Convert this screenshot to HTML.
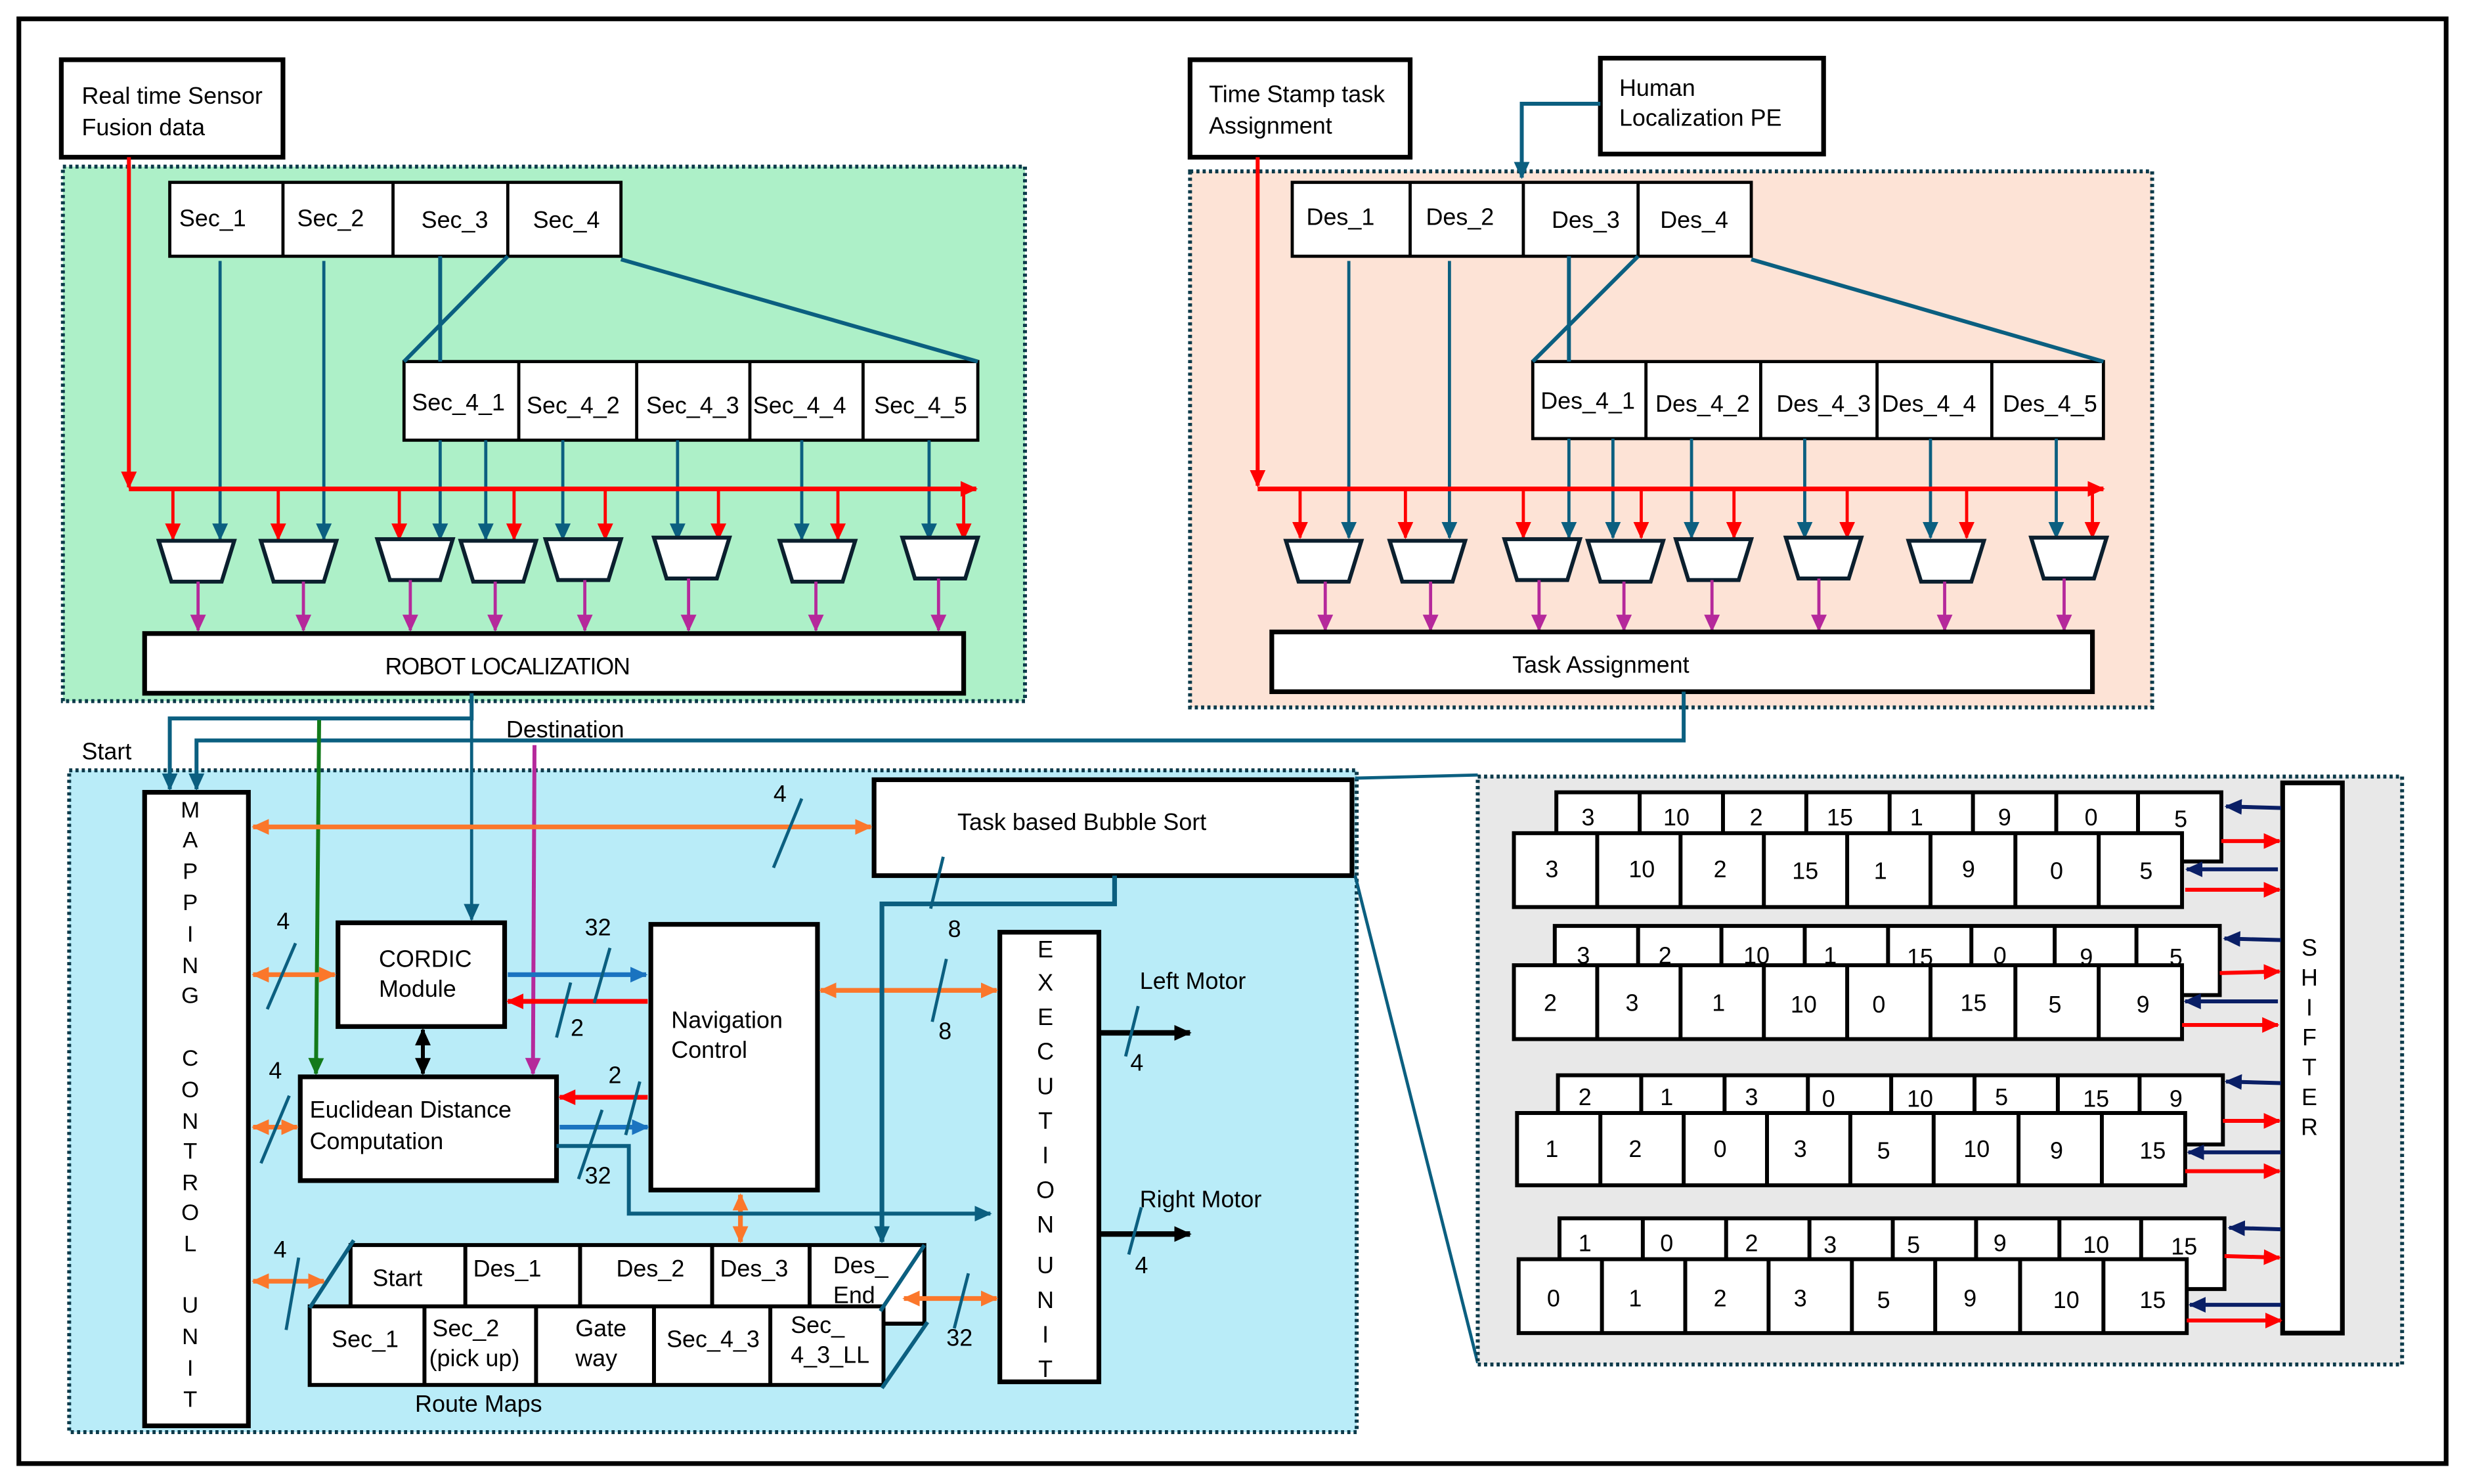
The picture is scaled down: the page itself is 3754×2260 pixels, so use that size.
<!DOCTYPE html>
<html><head><meta charset="utf-8"><style>
html,body{margin:0;padding:0;background:#fff;}
svg{display:block;}
text{font-family:"Liberation Sans",Arial,sans-serif;fill:#000;}
</style></head><body>
<svg width="3754" height="2260" viewBox="0 0 1568 944" preserveAspectRatio="none" xmlns="http://www.w3.org/2000/svg">
<defs>
<marker id="ar" markerUnits="userSpaceOnUse" markerWidth="12" markerHeight="12" refX="10" refY="6" orient="auto-start-reverse"><path d="M0,1 L11,6 L0,11 z" fill="#ff0000"/></marker>
<marker id="at" markerUnits="userSpaceOnUse" markerWidth="12" markerHeight="12" refX="10" refY="6" orient="auto-start-reverse"><path d="M0,1 L11,6 L0,11 z" fill="#0b5f80"/></marker>
<marker id="ap" markerUnits="userSpaceOnUse" markerWidth="12" markerHeight="12" refX="10" refY="6" orient="auto-start-reverse"><path d="M0,1 L11,6 L0,11 z" fill="#b5299b"/></marker>
<marker id="ao" markerUnits="userSpaceOnUse" markerWidth="12" markerHeight="12" refX="10" refY="6" orient="auto-start-reverse"><path d="M0,1 L11,6 L0,11 z" fill="#fb772b"/></marker>
<marker id="ab" markerUnits="userSpaceOnUse" markerWidth="12" markerHeight="12" refX="10" refY="6" orient="auto-start-reverse"><path d="M0,1 L11,6 L0,11 z" fill="#1a73c0"/></marker>
<marker id="ak" markerUnits="userSpaceOnUse" markerWidth="12" markerHeight="12" refX="10" refY="6" orient="auto-start-reverse"><path d="M0,1 L11,6 L0,11 z" fill="#000"/></marker>
<marker id="ag" markerUnits="userSpaceOnUse" markerWidth="12" markerHeight="12" refX="10" refY="6" orient="auto-start-reverse"><path d="M0,1 L11,6 L0,11 z" fill="#137a1a"/></marker>
<marker id="an" markerUnits="userSpaceOnUse" markerWidth="12" markerHeight="12" refX="10" refY="6" orient="auto-start-reverse"><path d="M0,1 L11,6 L0,11 z" fill="#0a1f66"/></marker>
</defs>
<rect x="0" y="0" width="1568" height="944" fill="#fff"/>
<rect x="12" y="12" width="1544" height="919" fill="none" stroke="#000" stroke-width="3"/>

<!-- GREEN PANEL -->
<rect x="40" y="106" width="612" height="340" fill="#adf0c8" stroke="#0c3a4a" stroke-width="2.5" stroke-dasharray="2,2"/>
<rect x="39" y="38" width="141" height="62" fill="#fff" stroke="#000" stroke-width="3"/>
<text x="52" y="66" font-size="15">Real time Sensor</text>
<text x="52" y="86" font-size="15">Fusion data</text>
<g fill="#fff" stroke="#000" stroke-width="2">
<rect x="108" y="116" width="287" height="47"/>
<line x1="180" y1="116" x2="180" y2="163"/><line x1="250" y1="116" x2="250" y2="163"/><line x1="323" y1="116" x2="323" y2="163"/>
<rect x="257" y="230" width="365" height="50"/>
<line x1="330" y1="230" x2="330" y2="280"/><line x1="405" y1="230" x2="405" y2="280"/><line x1="477" y1="230" x2="477" y2="280"/><line x1="549" y1="230" x2="549" y2="280"/>
</g>
<g font-size="15">
<text x="114" y="144">Sec_1</text><text x="189" y="144">Sec_2</text><text x="268" y="145">Sec_3</text><text x="339" y="145">Sec_4</text>
<text x="262" y="261">Sec_4_1</text><text x="335" y="263">Sec_4_2</text><text x="411" y="263">Sec_4_3</text><text x="479" y="263">Sec_4_4</text><text x="556" y="263">Sec_4_5</text>
</g>
<g stroke="#0b5f80" stroke-width="2.5" fill="none">
<line x1="323" y1="163" x2="257" y2="230"/><line x1="395" y1="165" x2="622" y2="230"/>
<line x1="280" y1="163" x2="280" y2="230"/>
</g>
<g stroke="#0b5f80" stroke-width="2" marker-end="url(#at)">
<line x1="140" y1="166" x2="140" y2="343"/><line x1="206" y1="166" x2="206" y2="343"/>
<line x1="280" y1="280" x2="280" y2="343"/><line x1="309" y1="280" x2="309" y2="343"/><line x1="358" y1="280" x2="358" y2="343"/><line x1="431" y1="280" x2="431" y2="343"/><line x1="510" y1="280" x2="510" y2="343"/><line x1="591" y1="280" x2="591" y2="343"/>
</g>
<line x1="82" y1="100" x2="82" y2="310" stroke="#ff0000" stroke-width="2.5" marker-end="url(#ar)"/>
<line x1="82" y1="311" x2="621" y2="311" stroke="#ff0000" stroke-width="3" marker-end="url(#ar)"/>
<g stroke="#ff0000" stroke-width="2" marker-end="url(#ar)">
<line x1="110" y1="311" x2="110" y2="343"/><line x1="177" y1="311" x2="177" y2="343"/><line x1="254" y1="311" x2="254" y2="343"/><line x1="327" y1="311" x2="327" y2="343"/><line x1="385" y1="311" x2="385" y2="343"/><line x1="457" y1="311" x2="457" y2="343"/><line x1="533" y1="311" x2="533" y2="343"/><line x1="613" y1="311" x2="613" y2="343"/>
</g>
<g fill="#fff" stroke="#0b1f2e" stroke-width="2.5">
<polygon points="101,344 149,344 141,370 109,370"/><polygon points="166,344 214,344 206,370 174,370"/><polygon points="240,343 288,343 280,369 248,369"/><polygon points="293,344 341,344 333,370 301,370"/><polygon points="347,343 395,343 387,369 355,369"/><polygon points="416,342 464,342 456,368 424,368"/><polygon points="496,344 544,344 536,370 504,370"/><polygon points="574,342 622,342 614,368 582,368"/>
</g>
<g stroke="#b5299b" stroke-width="2" marker-end="url(#ap)">
<line x1="126" y1="370" x2="126" y2="401"/><line x1="193" y1="370" x2="193" y2="401"/><line x1="261" y1="369" x2="261" y2="401"/><line x1="315" y1="370" x2="315" y2="401"/><line x1="372" y1="369" x2="372" y2="401"/><line x1="438" y1="368" x2="438" y2="401"/><line x1="519" y1="370" x2="519" y2="401"/><line x1="597" y1="368" x2="597" y2="401"/>
</g>
<rect x="92" y="403" width="521" height="38" fill="#fff" stroke="#000" stroke-width="3"/>
<text x="245" y="429" font-size="15" letter-spacing="-0.5">ROBOT LOCALIZATION</text>

<!-- ORANGE PANEL -->
<rect x="757" y="109" width="612" height="341" fill="#fde3d6" stroke="#0c3a4a" stroke-width="2.5" stroke-dasharray="2,2"/>
<rect x="757" y="38" width="140" height="62" fill="#fff" stroke="#000" stroke-width="3"/>
<text x="769" y="65" font-size="15">Time Stamp task</text>
<text x="769" y="85" font-size="15">Assignment</text>
<rect x="1018" y="37" width="142" height="61" fill="#fff" stroke="#000" stroke-width="3"/>
<text x="1030" y="61" font-size="15">Human</text>
<text x="1030" y="80" font-size="15">Localization PE</text>
<polyline points="1018,66 968,66 968,113" fill="none" stroke="#0b5f80" stroke-width="2.5" marker-end="url(#at)"/>
<g fill="#fff" stroke="#000" stroke-width="2">
<rect x="822" y="116" width="292" height="47"/>
<line x1="897" y1="116" x2="897" y2="163"/><line x1="969" y1="116" x2="969" y2="163"/><line x1="1042" y1="116" x2="1042" y2="163"/>
<rect x="975" y="230" width="363" height="49"/>
<line x1="1047" y1="230" x2="1047" y2="279"/><line x1="1120" y1="230" x2="1120" y2="279"/><line x1="1194" y1="230" x2="1194" y2="279"/><line x1="1267" y1="230" x2="1267" y2="279"/>
</g>
<g font-size="15">
<text x="831" y="143">Des_1</text><text x="907" y="143">Des_2</text><text x="987" y="145">Des_3</text><text x="1056" y="145">Des_4</text>
<text x="980" y="260">Des_4_1</text><text x="1053" y="262">Des_4_2</text><text x="1130" y="262">Des_4_3</text><text x="1197" y="262">Des_4_4</text><text x="1274" y="262">Des_4_5</text>
</g>
<g stroke="#0b5f80" stroke-width="2.5" fill="none">
<line x1="1042" y1="163" x2="975" y2="230"/><line x1="1114" y1="165" x2="1338" y2="230"/>
<line x1="998" y1="163" x2="998" y2="230"/>
</g>
<g stroke="#0b5f80" stroke-width="2" marker-end="url(#at)">
<line x1="858" y1="166" x2="858" y2="342"/><line x1="922" y1="166" x2="922" y2="342"/>
<line x1="998" y1="279" x2="998" y2="342"/><line x1="1026" y1="279" x2="1026" y2="342"/><line x1="1076" y1="279" x2="1076" y2="342"/><line x1="1148" y1="279" x2="1148" y2="342"/><line x1="1228" y1="279" x2="1228" y2="342"/><line x1="1308" y1="279" x2="1308" y2="342"/>
</g>
<line x1="800" y1="100" x2="800" y2="309" stroke="#ff0000" stroke-width="2.5" marker-end="url(#ar)"/>
<line x1="800" y1="311" x2="1338" y2="311" stroke="#ff0000" stroke-width="3" marker-end="url(#ar)"/>
<g stroke="#ff0000" stroke-width="2" marker-end="url(#ar)">
<line x1="827" y1="311" x2="827" y2="342"/><line x1="894" y1="311" x2="894" y2="342"/><line x1="969" y1="311" x2="969" y2="342"/><line x1="1044" y1="311" x2="1044" y2="342"/><line x1="1103" y1="311" x2="1103" y2="342"/><line x1="1175" y1="311" x2="1175" y2="342"/><line x1="1251" y1="311" x2="1251" y2="342"/><line x1="1331" y1="311" x2="1331" y2="342"/>
</g>
<g fill="#fff" stroke="#0b1f2e" stroke-width="2.5">
<polygon points="818,344 866,344 858,370 826,370"/><polygon points="884,344 932,344 924,370 892,370"/><polygon points="957,343 1005,343 997,369 965,369"/><polygon points="1010,344 1058,344 1050,370 1018,370"/><polygon points="1066,343 1114,343 1106,369 1074,369"/><polygon points="1136,342 1184,342 1176,368 1144,368"/><polygon points="1214,344 1262,344 1254,370 1222,370"/><polygon points="1292,342 1340,342 1332,368 1300,368"/>
</g>
<g stroke="#b5299b" stroke-width="2" marker-end="url(#ap)">
<line x1="843" y1="370" x2="843" y2="401"/><line x1="910" y1="370" x2="910" y2="401"/><line x1="979" y1="369" x2="979" y2="401"/><line x1="1033" y1="370" x2="1033" y2="401"/><line x1="1089" y1="369" x2="1089" y2="401"/><line x1="1157" y1="368" x2="1157" y2="401"/><line x1="1237" y1="370" x2="1237" y2="401"/><line x1="1313" y1="368" x2="1313" y2="401"/>
</g>
<rect x="809" y="402" width="522" height="38" fill="#fff" stroke="#000" stroke-width="3"/>
<text x="962" y="428" font-size="15">Task Assignment</text>

<!-- BLUE PANEL -->
<rect x="44" y="490" width="819" height="421" fill="#b9ecf8" stroke="#0c3a4a" stroke-width="2.5" stroke-dasharray="2,2"/>
<text x="52" y="483" font-size="15">Start</text>
<text x="322" y="469" font-size="15">Destination</text>
<polyline points="300,441 300,457 108,457 108,502" fill="none" stroke="#0b5f80" stroke-width="2.5" marker-end="url(#at)"/>
<line x1="300" y1="457" x2="300" y2="585" stroke="#0b5f80" stroke-width="2" marker-end="url(#at)"/>
<polyline points="1071,440 1071,471 125,471 125,502" fill="none" stroke="#0b5f80" stroke-width="2.5" marker-end="url(#at)"/>
<line x1="203" y1="458" x2="201" y2="683" stroke="#137a1a" stroke-width="2.5" marker-end="url(#ag)"/>
<line x1="340" y1="474" x2="339" y2="683" stroke="#b5299b" stroke-width="2.5" marker-end="url(#ap)"/>

<rect x="92" y="504" width="66" height="403" fill="#fff" stroke="#000" stroke-width="3"/>
<g font-size="14.5" text-anchor="middle">
<text x="121" y="520">M</text><text x="121" y="539">A</text><text x="121" y="559">P</text><text x="121" y="579">P</text><text x="121" y="599">I</text><text x="121" y="619">N</text><text x="121" y="638">G</text>
<text x="121" y="678">C</text><text x="121" y="698">O</text><text x="121" y="718">N</text><text x="121" y="737">T</text><text x="121" y="757">R</text><text x="121" y="776">O</text><text x="121" y="796">L</text>
<text x="121" y="835">U</text><text x="121" y="855">N</text><text x="121" y="875">I</text><text x="121" y="895">T</text>
</g>

<rect x="556" y="496" width="304" height="61" fill="#fff" stroke="#000" stroke-width="3"/>
<text x="609" y="528" font-size="15">Task based Bubble Sort</text>
<rect x="215" y="587" width="106" height="66" fill="#fff" stroke="#000" stroke-width="3"/>
<text x="241" y="615" font-size="15">CORDIC</text>
<text x="241" y="634" font-size="15">Module</text>
<rect x="414" y="588" width="106" height="169" fill="#fff" stroke="#000" stroke-width="3"/>
<text x="427" y="654" font-size="15">Navigation</text>
<text x="427" y="673" font-size="15">Control</text>
<rect x="191" y="685" width="163" height="66" fill="#fff" stroke="#000" stroke-width="3"/>
<text x="197" y="711" font-size="15">Euclidean Distance</text>
<text x="197" y="731" font-size="15">Computation</text>
<rect x="636" y="593" width="63" height="286" fill="#fff" stroke="#000" stroke-width="3"/>
<g font-size="15" text-anchor="middle">
<text x="665" y="609">E</text><text x="665" y="630">X</text><text x="665" y="652">E</text><text x="665" y="674">C</text><text x="665" y="696">U</text><text x="665" y="718">T</text><text x="665" y="740">I</text><text x="665" y="762">O</text><text x="665" y="784">N</text>
<text x="665" y="810">U</text><text x="665" y="832">N</text><text x="665" y="854">I</text><text x="665" y="876">T</text>
</g>

<!-- route maps -->
<g fill="#fff" stroke="#000" stroke-width="2.5">
<rect x="223" y="792" width="365" height="50"/>
<line x1="562" y1="842" x2="588" y2="842"/>
<rect x="197" y="831" width="365" height="50"/>
<line x1="296" y1="792" x2="296" y2="831"/><line x1="369" y1="792" x2="369" y2="831"/><line x1="453" y1="792" x2="453" y2="831"/><line x1="515" y1="792" x2="515" y2="831"/>
<line x1="270" y1="831" x2="270" y2="881"/><line x1="341" y1="831" x2="341" y2="881"/><line x1="416" y1="831" x2="416" y2="881"/><line x1="490" y1="831" x2="490" y2="881"/>
</g>
<g stroke="#0b5f80" stroke-width="2.5">
<line x1="225" y1="789" x2="197" y2="832"/>
<line x1="588" y1="792" x2="560" y2="834"/>
<line x1="590" y1="841" x2="561" y2="883"/>
</g>
<g font-size="15">
<text x="237" y="818">Start</text><text x="301" y="812">Des_1</text><text x="392" y="812">Des_2</text><text x="458" y="812">Des_3</text><text x="530" y="810">Des_</text><text x="530" y="829">End</text>
<text x="211" y="857">Sec_1</text><text x="275" y="850">Sec_2</text><text x="273" y="869">(pick up)</text><text x="366" y="850">Gate</text><text x="366" y="869">way</text><text x="424" y="857">Sec_4_3</text><text x="503" y="848">Sec_</text><text x="503" y="867">4_3_LL</text>
<text x="264" y="898">Route Maps</text>
</g>

<g stroke="#fb772b" stroke-width="3" marker-start="url(#ao)" marker-end="url(#ao)">
<line x1="161" y1="526" x2="554" y2="526"/>
<line x1="161" y1="620" x2="213" y2="620"/>
<line x1="161" y1="717" x2="189" y2="717"/>
<line x1="161" y1="815" x2="206" y2="815"/>
<line x1="522" y1="630" x2="634" y2="630"/>
<line x1="471" y1="760" x2="471" y2="790"/>
<line x1="575" y1="826" x2="634" y2="826"/>
</g>
<line x1="323" y1="620" x2="411" y2="620" stroke="#1a73c0" stroke-width="3" marker-end="url(#ab)"/>
<line x1="412" y1="637" x2="323" y2="637" stroke="#ff0000" stroke-width="3" marker-end="url(#ar)"/>
<line x1="412" y1="698" x2="356" y2="698" stroke="#ff0000" stroke-width="3" marker-end="url(#ar)"/>
<line x1="356" y1="717" x2="412" y2="717" stroke="#1a73c0" stroke-width="3" marker-end="url(#ab)"/>
<line x1="269" y1="655" x2="269" y2="683" stroke="#000" stroke-width="2.5" marker-start="url(#ak)" marker-end="url(#ak)"/>
<polyline points="354,729 400,729 400,772 630,772" fill="none" stroke="#0b5f80" stroke-width="2.5" marker-end="url(#at)"/>
<polyline points="709,557 709,575 561,575 561,790" fill="none" stroke="#0b5f80" stroke-width="3" marker-end="url(#at)"/>
<line x1="699" y1="657" x2="757" y2="657" stroke="#000" stroke-width="3.5" marker-end="url(#ak)"/>
<line x1="699" y1="785" x2="757" y2="785" stroke="#000" stroke-width="3.5" marker-end="url(#ak)"/>
<g stroke="#0b5f80" stroke-width="2">
<line x1="510" y1="508" x2="492" y2="552"/>
<line x1="188" y1="600" x2="170" y2="642"/>
<line x1="184" y1="697" x2="166" y2="740"/>
<line x1="190" y1="800" x2="182" y2="846"/>
<line x1="388" y1="603" x2="378" y2="638"/>
<line x1="363" y1="625" x2="354" y2="660"/>
<line x1="407" y1="688" x2="398" y2="722"/>
<line x1="383" y1="706" x2="368" y2="750"/>
<line x1="602" y1="610" x2="593" y2="650"/>
<line x1="600" y1="545" x2="592" y2="578"/>
<line x1="724" y1="640" x2="716" y2="672"/>
<line x1="726" y1="768" x2="718" y2="798"/>
<line x1="616" y1="810" x2="607" y2="845"/>
</g>
<g font-size="15">
<text x="492" y="510">4</text>
<text x="176" y="591">4</text><text x="171" y="686">4</text><text x="174" y="800">4</text>
<text x="372" y="595">32</text><text x="363" y="659">2</text><text x="387" y="689">2</text><text x="372" y="753">32</text>
<text x="603" y="596">8</text><text x="597" y="661">8</text>
<text x="725" y="629">Left Motor</text><text x="719" y="681">4</text>
<text x="725" y="768">Right Motor</text><text x="722" y="810">4</text>
<text x="602" y="856">32</text>
</g>
<line x1="862" y1="495" x2="940" y2="493" stroke="#0b5f80" stroke-width="2"/>
<line x1="862" y1="557" x2="940" y2="867" stroke="#0b5f80" stroke-width="2"/>

<!-- GRAY PANEL -->
<rect x="940" y="494" width="588" height="374" fill="#e8e8e8" stroke="#0c3a4a" stroke-width="2.5" stroke-dasharray="2,2"/>
<rect x="1452" y="498" width="38" height="350" fill="#fff" stroke="#000" stroke-width="3"/>
<g font-size="15" text-anchor="middle">
<text x="1469" y="608">S</text><text x="1469" y="627">H</text><text x="1469" y="646">I</text><text x="1469" y="665">F</text><text x="1469" y="684">T</text><text x="1469" y="703">E</text><text x="1469" y="722">R</text>
</g>
<g fill="#fff" stroke="#000" stroke-width="2.5">
<rect x="990" y="504" width="423" height="44"/>
<line x1="1043" y1="504" x2="1043" y2="529"/><line x1="1096" y1="504" x2="1096" y2="529"/><line x1="1149" y1="504" x2="1149" y2="529"/><line x1="1202" y1="504" x2="1202" y2="529"/><line x1="1255" y1="504" x2="1255" y2="529"/><line x1="1308" y1="504" x2="1308" y2="529"/><line x1="1360" y1="504" x2="1360" y2="529"/>
<rect x="963" y="530" width="425" height="47"/>
<line x1="1016" y1="530" x2="1016" y2="577"/><line x1="1069" y1="530" x2="1069" y2="577"/><line x1="1122" y1="530" x2="1122" y2="577"/><line x1="1175" y1="530" x2="1175" y2="577"/><line x1="1228" y1="530" x2="1228" y2="577"/><line x1="1282" y1="530" x2="1282" y2="577"/><line x1="1335" y1="530" x2="1335" y2="577"/>
<rect x="989" y="589" width="423" height="44"/>
<line x1="1042" y1="589" x2="1042" y2="614"/><line x1="1095" y1="589" x2="1095" y2="614"/><line x1="1148" y1="589" x2="1148" y2="614"/><line x1="1201" y1="589" x2="1201" y2="614"/><line x1="1254" y1="589" x2="1254" y2="614"/><line x1="1307" y1="589" x2="1307" y2="614"/><line x1="1359" y1="589" x2="1359" y2="614"/>
<rect x="963" y="614" width="425" height="47"/>
<line x1="1016" y1="614" x2="1016" y2="661"/><line x1="1069" y1="614" x2="1069" y2="661"/><line x1="1122" y1="614" x2="1122" y2="661"/><line x1="1175" y1="614" x2="1175" y2="661"/><line x1="1228" y1="614" x2="1228" y2="661"/><line x1="1282" y1="614" x2="1282" y2="661"/><line x1="1335" y1="614" x2="1335" y2="661"/>
<rect x="991" y="684" width="423" height="44"/>
<line x1="1044" y1="684" x2="1044" y2="708"/><line x1="1097" y1="684" x2="1097" y2="708"/><line x1="1150" y1="684" x2="1150" y2="708"/><line x1="1203" y1="684" x2="1203" y2="708"/><line x1="1256" y1="684" x2="1256" y2="708"/><line x1="1309" y1="684" x2="1309" y2="708"/><line x1="1361" y1="684" x2="1361" y2="708"/>
<rect x="965" y="708" width="425" height="46"/>
<line x1="1018" y1="708" x2="1018" y2="754"/><line x1="1071" y1="708" x2="1071" y2="754"/><line x1="1124" y1="708" x2="1124" y2="754"/><line x1="1177" y1="708" x2="1177" y2="754"/><line x1="1230" y1="708" x2="1230" y2="754"/><line x1="1284" y1="708" x2="1284" y2="754"/><line x1="1337" y1="708" x2="1337" y2="754"/>
<rect x="992" y="775" width="423" height="45"/>
<line x1="1045" y1="775" x2="1045" y2="801"/><line x1="1098" y1="775" x2="1098" y2="801"/><line x1="1151" y1="775" x2="1151" y2="801"/><line x1="1204" y1="775" x2="1204" y2="801"/><line x1="1257" y1="775" x2="1257" y2="801"/><line x1="1310" y1="775" x2="1310" y2="801"/><line x1="1362" y1="775" x2="1362" y2="801"/>
<rect x="966" y="801" width="425" height="47"/>
<line x1="1019" y1="801" x2="1019" y2="848"/><line x1="1072" y1="801" x2="1072" y2="848"/><line x1="1125" y1="801" x2="1125" y2="848"/><line x1="1178" y1="801" x2="1178" y2="848"/><line x1="1231" y1="801" x2="1231" y2="848"/><line x1="1285" y1="801" x2="1285" y2="848"/><line x1="1338" y1="801" x2="1338" y2="848"/>
</g>
<g font-size="15">
<text x="1006" y="525">3</text><text x="1058" y="525">10</text><text x="1113" y="525">2</text><text x="1162" y="525">15</text><text x="1215" y="525">1</text><text x="1271" y="525">9</text><text x="1326" y="525">0</text><text x="1383" y="526">5</text>
<text x="983" y="558">3</text><text x="1036" y="558">10</text><text x="1090" y="558">2</text><text x="1140" y="559">15</text><text x="1192" y="559">1</text><text x="1248" y="558">9</text><text x="1304" y="559">0</text><text x="1361" y="559">5</text>
<text x="1003" y="613">3</text><text x="1055" y="613">2</text><text x="1109" y="613">10</text><text x="1160" y="613">1</text><text x="1213" y="614">15</text><text x="1268" y="613">0</text><text x="1323" y="614">9</text><text x="1380" y="614">5</text>
<text x="982" y="643">2</text><text x="1034" y="643">3</text><text x="1089" y="643">1</text><text x="1139" y="644">10</text><text x="1191" y="644">0</text><text x="1247" y="643">15</text><text x="1303" y="644">5</text><text x="1359" y="644">9</text>
<text x="1004" y="703">2</text><text x="1056" y="703">1</text><text x="1110" y="703">3</text><text x="1159" y="704">0</text><text x="1213" y="704">10</text><text x="1269" y="703">5</text><text x="1325" y="704">15</text><text x="1380" y="704">9</text>
<text x="983" y="736">1</text><text x="1036" y="736">2</text><text x="1090" y="736">0</text><text x="1141" y="736">3</text><text x="1194" y="737">5</text><text x="1249" y="736">10</text><text x="1304" y="737">9</text><text x="1361" y="737">15</text>
<text x="1004" y="796">1</text><text x="1056" y="796">0</text><text x="1110" y="796">2</text><text x="1160" y="797">3</text><text x="1213" y="797">5</text><text x="1268" y="796">9</text><text x="1325" y="797">10</text><text x="1381" y="798">15</text>
<text x="984" y="831">0</text><text x="1036" y="831">1</text><text x="1090" y="831">2</text><text x="1141" y="831">3</text><text x="1194" y="832">5</text><text x="1249" y="831">9</text><text x="1306" y="832">10</text><text x="1361" y="832">15</text>
</g>
<g stroke="#0a1f66" stroke-width="2.5" marker-end="url(#an)">
<line x1="1451" y1="514" x2="1416" y2="513"/><line x1="1449" y1="553" x2="1391" y2="553"/>
<line x1="1451" y1="598" x2="1415" y2="597"/><line x1="1449" y1="637" x2="1390" y2="637"/>
<line x1="1451" y1="689" x2="1416" y2="688"/><line x1="1451" y1="733" x2="1392" y2="733"/>
<line x1="1451" y1="782" x2="1418" y2="781"/><line x1="1451" y1="830" x2="1393" y2="830"/>
</g>
<g stroke="#ff0000" stroke-width="2.5" marker-end="url(#ar)">
<line x1="1413" y1="535" x2="1450" y2="535"/><line x1="1390" y1="566" x2="1450" y2="566"/>
<line x1="1412" y1="619" x2="1450" y2="618"/><line x1="1388" y1="652" x2="1449" y2="652"/>
<line x1="1414" y1="713" x2="1450" y2="713"/><line x1="1390" y1="745" x2="1450" y2="745"/>
<line x1="1415" y1="799" x2="1450" y2="800"/><line x1="1391" y1="840" x2="1451" y2="840"/>
</g>
</svg>
</body></html>
